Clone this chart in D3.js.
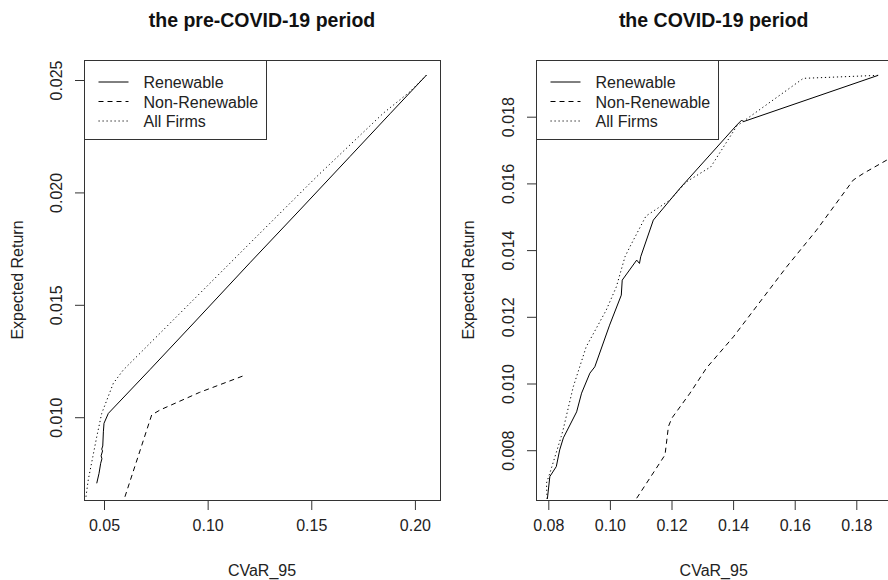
<!DOCTYPE html>
<html lang="en">
<head>
<meta charset="utf-8">
<title>Efficient frontiers</title>
<script src="https://d3js.org/d3.v7.min.js"></script>
<style>
  body { margin: 0; background: #fff; }
  svg { display: block; font-family: "Liberation Sans", Arial, sans-serif; }
</style>
</head>
<body>
<div id="chart"></div>
<script>
// ---- data (CVaR_95, expected return) ----
const seriesNames = ["Renewable", "Non-Renewable", "All Firms"];

// pre-COVID-19
const preRenewCVaR = [0.0465, 0.0476, 0.0484, 0.0490, 0.0486, 0.0493, 0.0489, 0.0494, 0.0497, 0.0500, 0.0521, 0.0722, 0.0942, 0.1204, 0.1445, 0.1687, 0.1880, 0.2056];
const preRenewRet  = [0.00706, 0.00750, 0.00795, 0.00815, 0.00828, 0.00850, 0.00858, 0.00872, 0.00935, 0.00973, 0.01017, 0.01212, 0.01428, 0.01687, 0.01922, 0.02160, 0.02350, 0.02522];

const preNonCVaR = [0.0601, 0.0730, 0.0770, 0.0960, 0.1175];
const preNonRet  = [0.00646, 0.01010, 0.01032, 0.01110, 0.01185];

const preAllCVaR = [0.0413, 0.0424, 0.0446, 0.0465, 0.0489, 0.0545, 0.0593, 0.0786, 0.1204, 0.1526, 0.1847, 0.1976, 0.2056];
const preAllRet  = [0.00646, 0.00721, 0.00824, 0.00913, 0.01017, 0.01151, 0.01210, 0.01388, 0.01774, 0.02070, 0.02352, 0.02448, 0.02522];

// COVID-19
const covRenewCVaR = [0.0797, 0.0805, 0.0826, 0.0837, 0.0849, 0.0892, 0.0908, 0.0935, 0.0951, 0.0999, 0.1037, 0.1040, 0.1087, 0.1096, 0.1100, 0.1141, 0.1228, 0.1412, 0.1428, 0.1433, 0.1871];
const covRenewRet  = [0.00654, 0.00721, 0.00751, 0.00801, 0.00837, 0.00915, 0.00971, 0.01031, 0.01050, 0.01175, 0.01265, 0.01310, 0.01370, 0.01360, 0.01380, 0.01490, 0.01586, 0.01775, 0.01790, 0.01785, 0.01924];

const covNonCVaR = [0.1087, 0.1179, 0.1190, 0.1201, 0.1260, 0.1314, 0.1401, 0.1574, 0.1671, 0.1790, 0.1823, 0.1899, 0.1926];
const covNonRet  = [0.00656, 0.00786, 0.00871, 0.00896, 0.00971, 0.01047, 0.01140, 0.01350, 0.01460, 0.01610, 0.01630, 0.01670, 0.01684];

const covAllCVaR = [0.0796, 0.0794, 0.0805, 0.0842, 0.0848, 0.0881, 0.0923, 0.0988, 0.1021, 0.1049, 0.1065, 0.1117, 0.1195, 0.1249, 0.1328, 0.1412, 0.1628, 0.1871];
const covAllRet  = [0.00654, 0.00701, 0.00731, 0.00841, 0.00861, 0.00990, 0.01110, 0.01220, 0.01290, 0.01380, 0.01410, 0.01502, 0.01550, 0.01605, 0.01650, 0.01772, 0.01915, 0.01924];

const preXTicks = [0.05, 0.10, 0.15, 0.20];
const preYTicks = [0.010, 0.015, 0.020, 0.025];
const covXTicks = [0.08, 0.10, 0.12, 0.14, 0.16, 0.18];
const covYTicks = [0.008, 0.010, 0.012, 0.014, 0.016, 0.018];

const titles = ["the pre-COVID-19 period", "the COVID-19 period"];

// ---- layout ----
const width = 888, height = 580;
const boxTop = 60, boxBottom = 500, boxW = 356;
const dashes = [null, "5,4", "1.2,2.8"];

const panels = [
  { left: 84, title: titles[0], xDomain: [0.04035, 0.2121], yDomain: [0.006317, 0.02589],
    xTicks: preXTicks, yTicks: preYTicks, xFmt: ".2f", yFmt: ".3f",
    series: [[preRenewCVaR, preRenewRet], [preNonCVaR, preNonRet], [preAllCVaR, preAllRet]] },
  { left: 535.7, title: titles[1], xDomain: [0.07591, 0.19149], yDomain: [0.006507, 0.0197],
    xTicks: covXTicks, yTicks: covYTicks, xFmt: ".2f", yFmt: ".3f",
    series: [[covRenewCVaR, covRenewRet], [covNonCVaR, covNonRet], [covAllCVaR, covAllRet]] }
];

const svg = d3.select("#chart").append("svg")
  .attr("width", width)
  .attr("height", height);

panels.forEach(function(p, i) {
  const x = d3.scaleLinear().domain(p.xDomain).range([p.left, p.left + boxW]);
  const y = d3.scaleLinear().domain(p.yDomain).range([boxBottom, boxTop]);
  const g = svg.append("g");

  // clip lines to the plot box like R does
  g.append("clipPath").attr("id", "clip" + i)
    .append("rect")
      .attr("x", p.left).attr("y", boxTop)
      .attr("width", boxW).attr("height", boxBottom - boxTop);

  // x axis
  const xAxis = g.append("g")
    .attr("transform", `translate(0, ${boxBottom + 0.5})`)
    .call(d3.axisBottom(x).tickValues(p.xTicks).tickFormat(d3.format(p.xFmt)).tickSize(9.5).tickPadding(10));
  xAxis.select(".domain").remove();
  xAxis.selectAll("line").attr("stroke", "#333");
  xAxis.selectAll("text")
    .attr("font-size", "16px").attr("font-family", "Liberation Sans, Arial, sans-serif")
    .attr("fill", "#222");

  // y axis, labels rotated like R's default las=0
  const yAxis = g.append("g")
    .attr("transform", `translate(${Math.round(p.left) + 0.5}, 0)`)
    .call(d3.axisLeft(y).tickValues(p.yTicks).tickFormat(d3.format(p.yFmt)).tickSize(9.5));
  yAxis.select(".domain").remove();
  yAxis.selectAll("line").attr("stroke", "#333");
  yAxis.selectAll("text")
    .attr("font-size", "16px").attr("font-family", "Liberation Sans, Arial, sans-serif")
    .attr("fill", "#222")
    .attr("x", null).attr("dy", null)
    .attr("text-anchor", "middle")
    .attr("transform", "translate(-23, 0) rotate(-90)");

  // lines
  const line = d3.line().x(d => x(d[0])).y(d => y(d[1]));
  p.series.forEach(function(s, k) {
    const pts = s[0].map((v, j) => [v, s[1][j]]);
    g.append("path")
      .datum(pts)
      .attr("clip-path", `url(#clip${i})`)
      .attr("d", line)
      .attr("fill", "none")
      .attr("stroke", "#000")
      .attr("stroke-width", 1)
      .attr("stroke-dasharray", dashes[k]);
  });

  // plot box
  g.append("rect")
    .attr("x", Math.round(p.left) + 0.5).attr("y", boxTop + 0.5)
    .attr("width", boxW).attr("height", boxBottom - boxTop)
    .attr("fill", "none").attr("stroke", "#333").attr("stroke-width", 1);

  // title and axis titles
  g.append("text")
    .attr("x", p.left + boxW / 2).attr("y", 27)
    .attr("text-anchor", "middle")
    .attr("font-size", "19.5px").attr("font-weight", "bold")
    .attr("fill", "#111")
    .text(p.title);

  g.append("text")
    .attr("x", p.left + boxW / 2).attr("y", 576)
    .attr("text-anchor", "middle")
    .attr("font-size", "16px").attr("fill", "#222")
    .text("CVaR_95");

  g.append("text")
    .attr("transform", `translate(${p.left - 61.5}, ${(boxTop + boxBottom) / 2}) rotate(-90)`)
    .attr("text-anchor", "middle")
    .attr("font-size", "16px").attr("fill", "#222")
    .text("Expected Return");

  // legend
  const lg = g.append("g").attr("transform", `translate(${Math.round(p.left) + 0.5}, ${boxTop + 0.5})`);
  lg.append("rect")
    .attr("width", 182).attr("height", 79)
    .attr("fill", "#fff").attr("stroke", "#333");
  seriesNames.forEach(function(name, k) {
    const ry = 21.5 + k * 19.5;
    lg.append("line")
      .attr("x1", 14).attr("x2", 44).attr("y1", ry).attr("y2", ry)
      .attr("stroke", "#000").attr("stroke-dasharray", dashes[k]);
    lg.append("text")
      .attr("x", 59).attr("y", ry + 6)
      .attr("font-size", "16px").attr("fill", "#222")
      .text(name);
  });
});
</script>
</body>
</html>
